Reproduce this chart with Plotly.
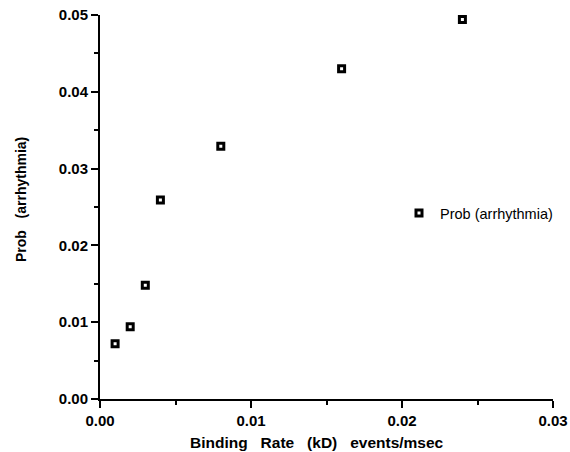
import plotly.graph_objects as go

binding_rate = [0.001, 0.002, 0.003, 0.004, 0.008, 0.016, 0.024]
prob_arrhythmia = [0.0072, 0.0094, 0.0148, 0.0259, 0.0329, 0.0430, 0.0494]
series_name = "Prob (arrhythmia)"
x_ticks = [0.0, 0.01, 0.02, 0.03]
y_ticks = [0.0, 0.01, 0.02, 0.03, 0.04, 0.05]

FONT = "Liberation Sans, Arial, Helvetica, sans-serif"

W, H = 570, 452
L, R, T, B = 100, 17, 15, 53
PW, PH = W - L - R, H - T - B

fig = go.Figure()
fig.add_trace(go.Scatter(
    x=binding_rate, y=prob_arrhythmia, mode="markers", name=series_name,
    marker=dict(symbol="square", size=6, color="white",
                line=dict(color="black", width=3)),
))

axis_common = dict(
    showgrid=False, zeroline=False, showline=True, linecolor="black", linewidth=2,
    ticks="outside", ticklen=7, tickwidth=2, tickcolor="black",
    tickfont=dict(family=FONT, size=15, color="black", weight="bold"),
    tickformat=".2f", automargin=False, ticklabeloverflow="allow",
    minor=dict(ticks="outside", ticklen=4, tickwidth=2, tickcolor="black", dtick=0.005),
)

fig.update_xaxes(range=[0, 0.03], tickvals=x_ticks, **axis_common)
fig.update_yaxes(range=[0, 0.05], tickvals=y_ticks, **axis_common)

nb = "\u00a0"
fig.add_annotation(
    text=f"Binding{nb*3}Rate{nb*3}(kD){nb*3}events/msec",
    xref="paper", yref="paper", x=(317 - L) / PW, y=-(442 - (H - B)) / PH,
    xanchor="center", yanchor="middle", showarrow=False,
    font=dict(family=FONT, size=15.5, color="black", weight="bold"),
)
fig.add_annotation(
    text=f"Prob{nb*3}(arrhythmia)",
    xref="paper", yref="paper", x=-(L - 21) / PW, y=((H - B) - 200) / PH,
    xanchor="center", yanchor="middle", textangle=-90, showarrow=False,
    font=dict(family=FONT, size=14, color="black", weight="bold"),
)

fig.update_layout(
    width=W, height=H,
    margin=dict(l=L, r=R, t=T, b=B),
    paper_bgcolor="white", plot_bgcolor="white",
    showlegend=True,
    legend=dict(x=(398 - L) / PW, y=((H - B) - 213) / PH, xanchor="left", yanchor="middle",
                bgcolor="rgba(0,0,0,0)", itemwidth=32,
                font=dict(family=FONT, size=14.5, color="black")),
)

fig.write_html("out.html", config={"displayModeBar": False},
               post_script="document.body.style.margin='0';")
